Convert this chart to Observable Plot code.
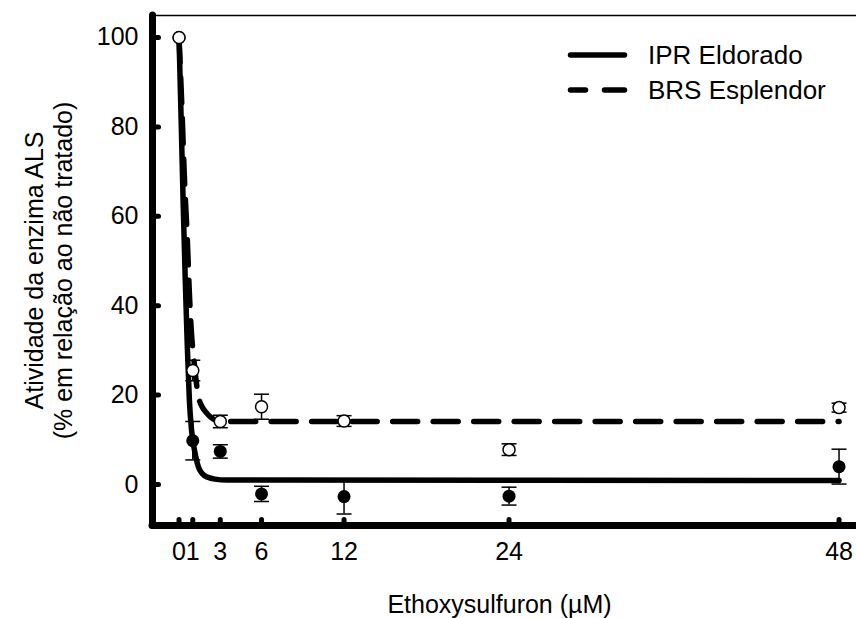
<!DOCTYPE html>
<html><head><meta charset="utf-8">
<script src="https://cdn.jsdelivr.net/npm/d3@7"></script>
<script src="https://cdn.jsdelivr.net/npm/@observablehq/plot@0.6"></script>
<style>body{margin:0;background:#fff} #chart svg{display:block}</style>
</head><body><div id="chart"></div>
<script>
// ---- data ----
const seriesNames = ["IPR Eldorado", "BRS Esplendor"];
const doses = [0, 1, 3, 6, 12, 24, 48];
const eldoradoMean = [100, 9.8, 7.4, -2.1, -2.7, -2.6, 4.0];
const eldoradoErr  = [0, 4.3, 1.5, 1.7, 3.9, 2.0, 3.9];
const esplendorMean = [100, 25.5, 14.1, 17.4, 14.2, 7.8, 17.2];
const esplendorErr  = [0, 2.3, 1.4, 2.8, 1.2, 1.3, 1.0];
// fitted curves
const eldoradoCurveX = [0, 0.15, 0.3, 0.45, 0.6, 0.75, 0.9, 1.0, 1.2, 1.4, 1.7, 2.1, 2.6, 3.5, 48];
const eldoradoCurveY = [100, 82, 63, 46, 31, 19, 12.5, 10, 6.5, 4, 2.4, 1.6, 1.2, 1.0, 0.9];
const esplendorCurveX = [0, 0.2, 0.4, 0.6, 0.75, 0.9, 1.08, 1.25, 1.45, 1.7, 1.95, 2.3, 2.8, 3.5, 48];
const esplendorCurveY = [100, 85, 68, 55, 43, 34, 28, 23, 19.2, 17.3, 16.2, 15.1, 14.3, 14.1, 14.1];
const xTicks = [0, 1, 3, 6, 12, 24, 48];
const yTicks = [0, 20, 40, 60, 80, 100];
const xTitle = "Ethoxysulfuron (µM)";
const yTitleLines = ["Atividade da enzima ALS", "(% em relação ao não tratado)"];

// ---- tables ----
const pts = (mean, err, s) => doses.map((d, i) => ({x: d, y: mean[i], e: err[i], s}));
const eld = pts(eldoradoMean, eldoradoErr, seriesNames[0]);
const esp = pts(esplendorMean, esplendorErr, seriesNames[1]);
const errs = [...eld, ...esp].filter(d => d.e > 0);
const eldCurve = eldoradoCurveX.map((x, i) => ({x, y: eldoradoCurveY[i]}));
const espCurve = esplendorCurveX.map((x, i) => ({x, y: esplendorCurveY[i]}));

const xDomain = [-1.93, 49.27];
const yDomain = [-9.17, 104.92];
const FONT = "'Liberation Sans', Arial, Helvetica, sans-serif";
const FS = 25;

const capSym = {draw(ctx) { ctx.moveTo(-7.5, 0); ctx.lineTo(7.5, 0); }};
const yTickSym = {draw(ctx) { ctx.moveTo(0, 0); ctx.lineTo(6, 0); }};
const xTickSym = {draw(ctx) { ctx.moveTo(0, 0); ctx.lineTo(0, -6); }};

const chart = Plot.plot({
  width: 856, height: 618,
  marginLeft: 152, marginRight: 0, marginTop: 15, marginBottom: 93,
  x: {domain: xDomain},
  y: {domain: yDomain},
  style: {fontFamily: FONT, fontSize: FS + "px", color: "black", background: "white", overflow: "visible"},
  marks: [
    Plot.axisY(yTicks, {tickSize: 0, tickPadding: 14, fontSize: FS, label: null}),
    Plot.axisX(xTicks, {tickSize: 0, tickPadding: 17, fontSize: FS, label: null}),
    Plot.ruleY([yDomain[1]], {stroke: "black", strokeWidth: 1.5}),
    Plot.line(eldCurve, {x: "x", y: "y", curve: "monotone-x", stroke: "black", strokeWidth: 5.5, strokeLinecap: "round", strokeLinejoin: "round"}),
    Plot.line(espCurve, {x: "x", y: "y", curve: "monotone-x", stroke: "black", strokeWidth: 5.5, strokeLinecap: "round", strokeLinejoin: "round", strokeDasharray: "25 15.5"}),
    Plot.ruleX(errs, {x: "x", y1: d => d.y - d.e, y2: d => d.y + d.e, stroke: "black", strokeWidth: 1.5}),
    Plot.dot(errs, {x: "x", y: d => d.y - d.e, symbol: capSym, r: 1, stroke: "black", strokeWidth: 1.5}),
    Plot.dot(errs, {x: "x", y: d => d.y + d.e, symbol: capSym, r: 1, stroke: "black", strokeWidth: 1.5}),
    Plot.dot(eld, {x: "x", y: "y", r: 6.5, fill: "black", stroke: "none"}),
    Plot.dot(esp, {x: "x", y: "y", r: 6, fill: "white", stroke: "black", strokeWidth: 1.5}),
    Plot.ruleX([xDomain[0]], {stroke: "black", strokeWidth: 7, strokeLinecap: "round"}),
    Plot.ruleY([yDomain[0]], {stroke: "black", strokeWidth: 7, strokeLinecap: "round"}),
    Plot.dot(yTicks, {x: () => xDomain[0], y: d => d, symbol: yTickSym, r: 1, stroke: "black", strokeWidth: 5, strokeLinecap: "round"}),
    Plot.dot(xTicks, {x: d => d, y: () => yDomain[0], symbol: xTickSym, r: 1, stroke: "black", strokeWidth: 5, strokeLinecap: "round"}),
    Plot.text([xTitle], {frameAnchor: "bottom", dx: -5, dy: 79, fontSize: FS, lineAnchor: "middle", fill: "black"}),
    Plot.text([yTitleLines.join("\n")], {frameAnchor: "left", rotate: -90, dx: -104, lineHeight: 1.14, fontSize: FS, lineAnchor: "middle", textAnchor: "middle", fill: "black"})
  ]
});
document.getElementById("chart").appendChild(chart);

// legend
const svg = d3.select(chart);
const lg = svg.append("g").attr("font-family", FONT).attr("font-size", 26).attr("fill", "black").attr("text-anchor", "start");
const rows = [{name: seriesNames[0], y: 55, dash: null}, {name: seriesNames[1], y: 90, dash: "15 19 20 10"}];
rows.forEach(r => {
  lg.append("line").attr("x1", 570.5).attr("x2", 624.5).attr("y1", r.y).attr("y2", r.y)
    .attr("stroke", "black").attr("stroke-width", 5.5).attr("stroke-linecap", "round")
    .attr("stroke-dasharray", r.dash);
  lg.append("text").attr("x", 648).attr("y", r.y).attr("dy", "0.35em").attr("text-anchor", "start").text(r.name);
});
</script>
</body></html>
